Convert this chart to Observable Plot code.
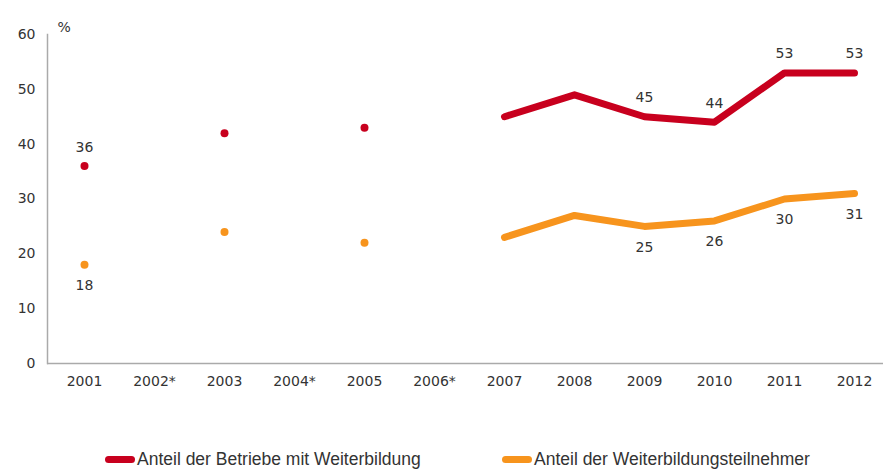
<!DOCTYPE html>
<html>
<head>
<meta charset="utf-8">
<script src="https://cdn.jsdelivr.net/npm/d3@7"></script>
<script src="https://cdn.jsdelivr.net/npm/@observablehq/plot@0.6"></script>
<style>
  html, body { margin: 0; padding: 0; background: #fff; }
  #chart { width: 883px; }
  .legend { position: relative; width: 883px; height: 70px; font-family: "Liberation Sans Narrow", "Liberation Sans", sans-serif; font-size: 17.5px; color: #333; }
  .item { position: absolute; top: 49px; display: flex; align-items: center; line-height: 20px; }
  .sw { width: 30px; height: 7px; border-radius: 4px; margin-right: 2px; }
</style>
</head>
<body>
<div id="chart"></div>
<div class="legend" id="legend"></div>
<script>
const years = ["2001","2002*","2003","2004*","2005","2006*","2007","2008","2009","2010","2011","2012"];
const betriebe = [36, null, 42, null, 43, null, 45, 49, 45, 44, 53, 53];
const teilnehmer = [18, null, 24, null, 22, null, 23, 27, 25, 26, 30, 31];
const lineFrom = "2007";
const labelYears = ["2001", "2009", "2010", "2011", "2012"];
const yTicks = [0, 10, 20, 30, 40, 50, 60];
const seriesNames = ["Anteil der Betriebe mit Weiterbildung", "Anteil der Weiterbildungsteilnehmer"];
const colors = ["#c8001e", "#f7941d"];

const startIdx = years.indexOf(lineFrom);
function rows(vals, s) {
  return years.map((y, i) => ({year: y, value: vals[i], series: s, i}))
    .filter(d => d.value != null);
}
const red = rows(betriebe, 0), orange = rows(teilnehmer, 1);
const all = red.concat(orange);
const dots = all.filter(d => d.i < startIdx);
const lines = all.filter(d => d.i >= startIdx);
const redLabels = red.filter(d => labelYears.includes(d.year));
const orangeLabels = orange.filter(d => labelYears.includes(d.year));

const font = "DejaVu Sans, Verdana, sans-serif";
const plot = Plot.plot({
  width: 883,
  height: 400,
  marginLeft: 47,
  marginRight: 0,
  marginTop: 34,
  marginBottom: 37,
  style: {fontFamily: font, fontSize: "14px", color: "#333", background: "#fff"},
  x: {type: "point", domain: years, range: [82, 856], padding: 0},
  y: {domain: [0, 60]},
  marks: [
    Plot.axisY({ticks: yTicks, tickSize: 0, tickPadding: 12, label: null, fontSize: 14}),
    Plot.axisX({tickSize: 0, tickPadding: 13, label: null, fontSize: 14}),
    Plot.frame({anchor: "left", stroke: "#aaa", strokeWidth: 1.5}),
    Plot.ruleY([0], {stroke: "#aaa", strokeWidth: 1.5}),
    Plot.text(["%"], {frameAnchor: "top-left", dx: 10, dy: -12, fontSize: 14, fill: "#333"}),
    Plot.line(lines, {x: "year", y: "value", z: "series", stroke: d => colors[d.series], strokeWidth: 7, strokeLinecap: "round", strokeLinejoin: "round"}),
    Plot.dot(dots, {x: "year", y: "value", r: 4, fill: d => colors[d.series], stroke: "none"}),
    Plot.text(redLabels, {x: "year", y: "value", text: d => String(d.value), dy: -19, fill: "#333", fontSize: 14}),
    Plot.text(orangeLabels, {x: "year", y: "value", text: d => String(d.value), dy: 21, fill: "#333", fontSize: 14})
  ]
});
document.getElementById("chart").appendChild(plot);

const legend = document.getElementById("legend");
const lefts = [105, 502];
seriesNames.forEach((name, k) => {
  const it = document.createElement("div");
  it.className = "item";
  it.style.left = lefts[k] + "px";
  const sw = document.createElement("span");
  sw.className = "sw";
  sw.style.background = colors[k];
  const tx = document.createElement("span");
  tx.textContent = name;
  it.appendChild(sw);
  it.appendChild(tx);
  legend.appendChild(it);
});
</script>
</body>
</html>
